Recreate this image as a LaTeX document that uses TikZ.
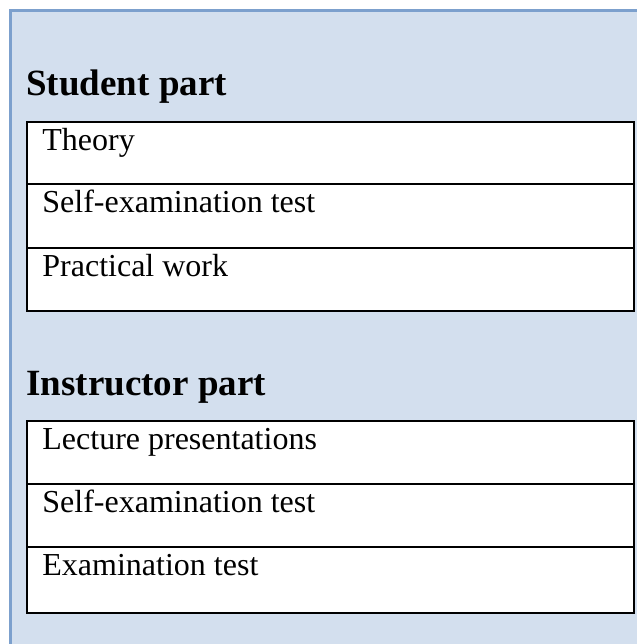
\documentclass[tikz,border=0pt]{standalone}
\usepackage{fontspec}
\setmainfont{Liberation Serif}
\usepackage{xcolor}
\usepackage{tikz}
\usetikzlibrary{positioning}

\definecolor{panelfill}{RGB}{211,223,238}
\definecolor{panelline}{RGB}{124,160,205}

\begin{document}
\begin{tikzpicture}[x=0.5pt, y=-0.5pt]
		\useasboundingbox (0,0) rectangle (637,644);
		% panel, border on top and left only
		\fill[panelfill] (10.5,10.5) rectangle (637,644);
		\draw[panelline, line width=1.5pt] (10.5,644) -- (10.5,10.5) -- (637,10.5);
		\begin{scope}[every node/.style = {inner sep=0pt}]
			\node[anchor=base west, font=\fontsize{18.5}{22}\selectfont\bfseries] (SP) at (26,95) {Student part};
			\node[anchor=base west, font=\fontsize{18.5}{22}\selectfont\bfseries] (IP) at (26,395) {Instructor part};
		\end{scope}
		\begin{scope}[every node/.style = {draw, line width=1pt, fill=white, rectangle, anchor=north west, minimum width=303.5pt, inner sep=0pt}]
			\node[minimum height=31pt] (S1) at (26,121) {};
			\node[minimum height=32pt] (S2) at (26,183) {};
			\node[minimum height=31.5pt] (S3) at (26,247) {};
			\node[minimum height=31.5pt] (I1) at (26,420) {};
			\node[minimum height=31.5pt] (I2) at (26,483) {};
			\node[minimum height=33pt] (I3) at (26,546) {};
		\end{scope}
		\begin{scope}[every node/.style = {anchor=base west, inner sep=0pt, font=\fontsize{16}{19}\selectfont}]
			\node (T1) at (42,150) {Theory};
			\node (T2) at (42,212) {Self-examination test};
			\node (T3) at (42,276) {Practical work};
			\node (T4) at (42,449) {Lecture presentations};
			\node (T5) at (42,512) {Self-examination test};
			\node (T6) at (42,575) {Examination test};
		\end{scope}
	\end{tikzpicture}
\end{document}
